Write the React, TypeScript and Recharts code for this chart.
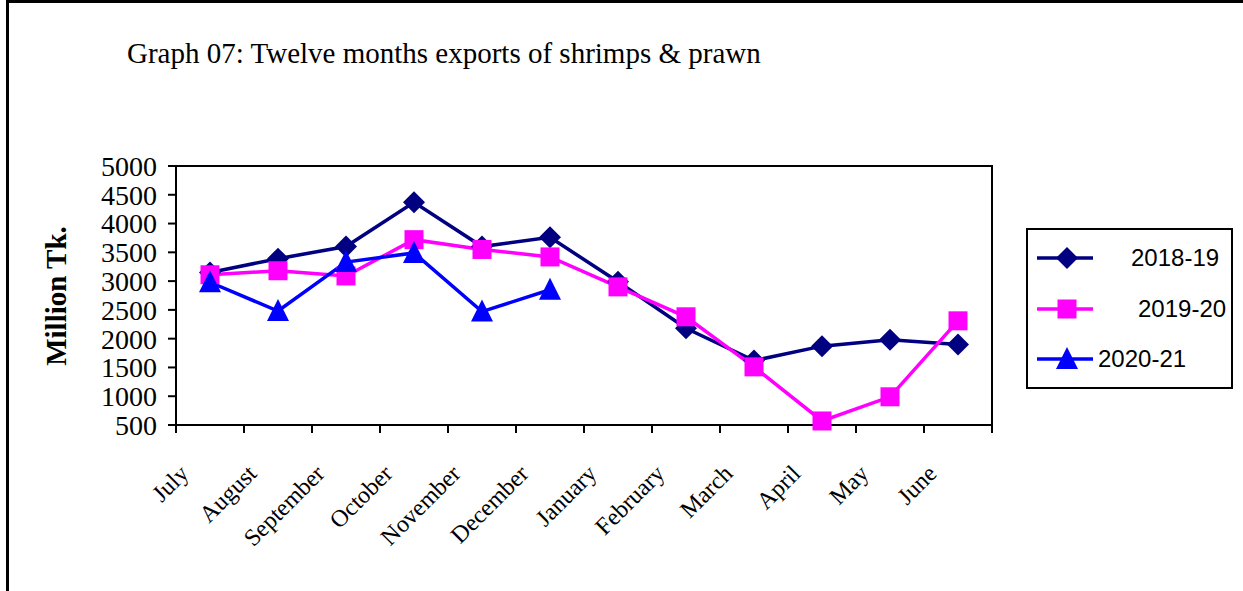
import { LineChart, Line, XAxis, YAxis, ReferenceArea } from "recharts";

const months = [
  "July", "August", "September", "October", "November", "December",
  "January", "February", "March", "April", "May", "June",
];
const fy1819 = [3150, 3390, 3600, 4370, 3600, 3760, 2990, 2180, 1620, 1870, 1980, 1900];
const fy1920 = [3110, 3180, 3090, 3720, 3550, 3420, 2900, 2380, 1510, 570, 990, 2310];
const fy2021 = [2980, 2480, 3330, 3490, 2470, 2850, null, null, null, null, null, null];
const yTicks = [500, 1000, 1500, 2000, 2500, 3000, 3500, 4000, 4500, 5000];
const bandTicks = [0, 1, 2, 3, 4, 5, 6, 7, 8, 9, 10, 11, 12];
const labelTicks = months.map((_, i) => i + 0.5);

const data = months.map((m, i) => ({
  pos: i + 0.5,
  month: m,
  fy1819: fy1819[i],
  fy1920: fy1920[i],
  fy2021: fy2021[i],
}));

const SERIF = "'Liberation Serif', 'Times New Roman', serif";
const SANS = "'Liberation Sans', Arial, sans-serif";

const series = [
  { key: "fy1819", name: "2018-19", color: "#000080", shape: "diamond", textX: 105 },
  { key: "fy1920", name: "2019-20", color: "#FF00FF", shape: "square", textX: 112 },
  { key: "fy2021", name: "2020-21", color: "#0000FF", shape: "triangle", textX: 72 },
];

function Marker({ shape, cx, cy, color }: any) {
  if (shape === "diamond") {
    const r = 11;
    return <polygon points={`${cx},${cy - r} ${cx + r},${cy} ${cx},${cy + r} ${cx - r},${cy}`} fill={color} />;
  }
  if (shape === "square") {
    const h = 9.5;
    return <rect x={cx - h} y={cy - h} width={h * 2} height={h * 2} fill={color} />;
  }
  return <polygon points={`${cx},${cy - 12} ${cx + 11},${cy + 10} ${cx - 11},${cy + 10}`} fill={color} />;
}

const makeDot = (shape: string, color: string) => (props: any) => {
  const { cx, cy, index } = props;
  if (cx == null || cy == null || props.value == null) return <g key={`d-${index}`} />;
  return (
    <g key={`d-${index}`}>
      <Marker shape={shape} cx={cx} cy={cy} color={color} />
    </g>
  );
};

const MonthTick = ({ x, y, payload }: any) => (
  <text
    x={0}
    y={0}
    transform={`translate(${x - 20},${y + 40}) rotate(-45)`}
    textAnchor="end"
    fontFamily={SERIF}
    fontSize={24}
    fill="#000"
  >
    {months[Math.floor(payload.value)]}
  </text>
);

const NoLabel = () => <g />;

function LegendBox() {
  const rows = [29, 80, 130];
  return (
    <svg
      width={207}
      height={161}
      style={{ position: "absolute", left: 1026, top: 228 }}
    >
      <rect x={1} y={1} width={205} height={159} fill="#fff" stroke="#000" strokeWidth={2} />
      {series.map((s, i) => (
        <g key={s.key}>
          <line x1={11} x2={67} y1={rows[i] + 1} y2={rows[i] + 1} stroke={s.color} strokeWidth={3.5} />
          <Marker shape={s.shape} cx={41} cy={rows[i] + 1} color={s.color} />
          <text x={s.textX} y={rows[i] + 9} fontFamily={SANS} fontSize={24} fill="#000">
            {s.name}
          </text>
        </g>
      ))}
    </svg>
  );
}

export default function App() {
  return (
    <div style={{ position: "absolute", left: 0, top: 0, width: 1243, height: 591, background: "#fff", overflow: "hidden" }}>
      <div
        style={{
          position: "absolute",
          left: 6,
          top: 0,
          width: 1300,
          height: 700,
          borderTop: "3px solid #000",
          borderLeft: "3px solid #000",
        }}
      />
      <LineChart
        width={1243}
        height={591}
        data={data}
        margin={{ top: 166, right: 251, left: 96, bottom: 96 }}
        style={{ position: "absolute", left: 0, top: 0 }}
      >
        <XAxis
          xAxisId="grid"
          dataKey="pos"
          type="number"
          domain={[0, 12]}
          ticks={bandTicks}
          interval={0}
          tick={<NoLabel />}
          tickSize={8}
          height={10}
          axisLine={{ stroke: "#000", strokeWidth: 2 }}
          tickLine={{ stroke: "#000", strokeWidth: 2 }}
        />
        <XAxis
          xAxisId="labels"
          dataKey="pos"
          type="number"
          domain={[0, 12]}
          ticks={labelTicks}
          interval={0}
          tick={<MonthTick />}
          tickSize={0}
          tickMargin={0}
          height={60}
          axisLine={false}
          tickLine={false}
        />
        <YAxis
          type="number"
          domain={[500, 5000]}
          ticks={yTicks}
          interval={0}
          width={80}
          tickSize={8}
          tickMargin={11}
          axisLine={{ stroke: "#000", strokeWidth: 2 }}
          tickLine={{ stroke: "#000", strokeWidth: 2 }}
          tick={{ fill: "#000", fontFamily: SERIF, fontSize: 28 }}
        />
        <ReferenceArea
          xAxisId="grid"
          x1={0}
          x2={12}
          y1={500}
          y2={5000}
          fill="none"
          fillOpacity={0}
          stroke="#000"
          strokeWidth={2}
          strokeOpacity={1}
        />
        {series.map((s) => (
          <Line
            key={s.key}
            xAxisId="grid"
            dataKey={s.key}
            name={s.name}
            stroke={s.color}
            strokeWidth={3.5}
            dot={makeDot(s.shape, s.color)}
            activeDot={false}
            isAnimationActive={false}
          />
        ))}
      </LineChart>
      <svg width={1243} height={591} style={{ position: "absolute", left: 0, top: 0, pointerEvents: "none" }}>
        <text x={127} y={63} fontFamily={SERIF} fontSize={29} fill="#000">
          Graph 07: Twelve months exports of shrimps &amp; prawn
        </text>
        <text
          transform="translate(66,296) rotate(-90)"
          textAnchor="middle"
          fontFamily={SERIF}
          fontWeight="bold"
          fontSize={29}
          fill="#000"
        >
          Million Tk.
        </text>
      </svg>
      <LegendBox />
    </div>
  );
}
